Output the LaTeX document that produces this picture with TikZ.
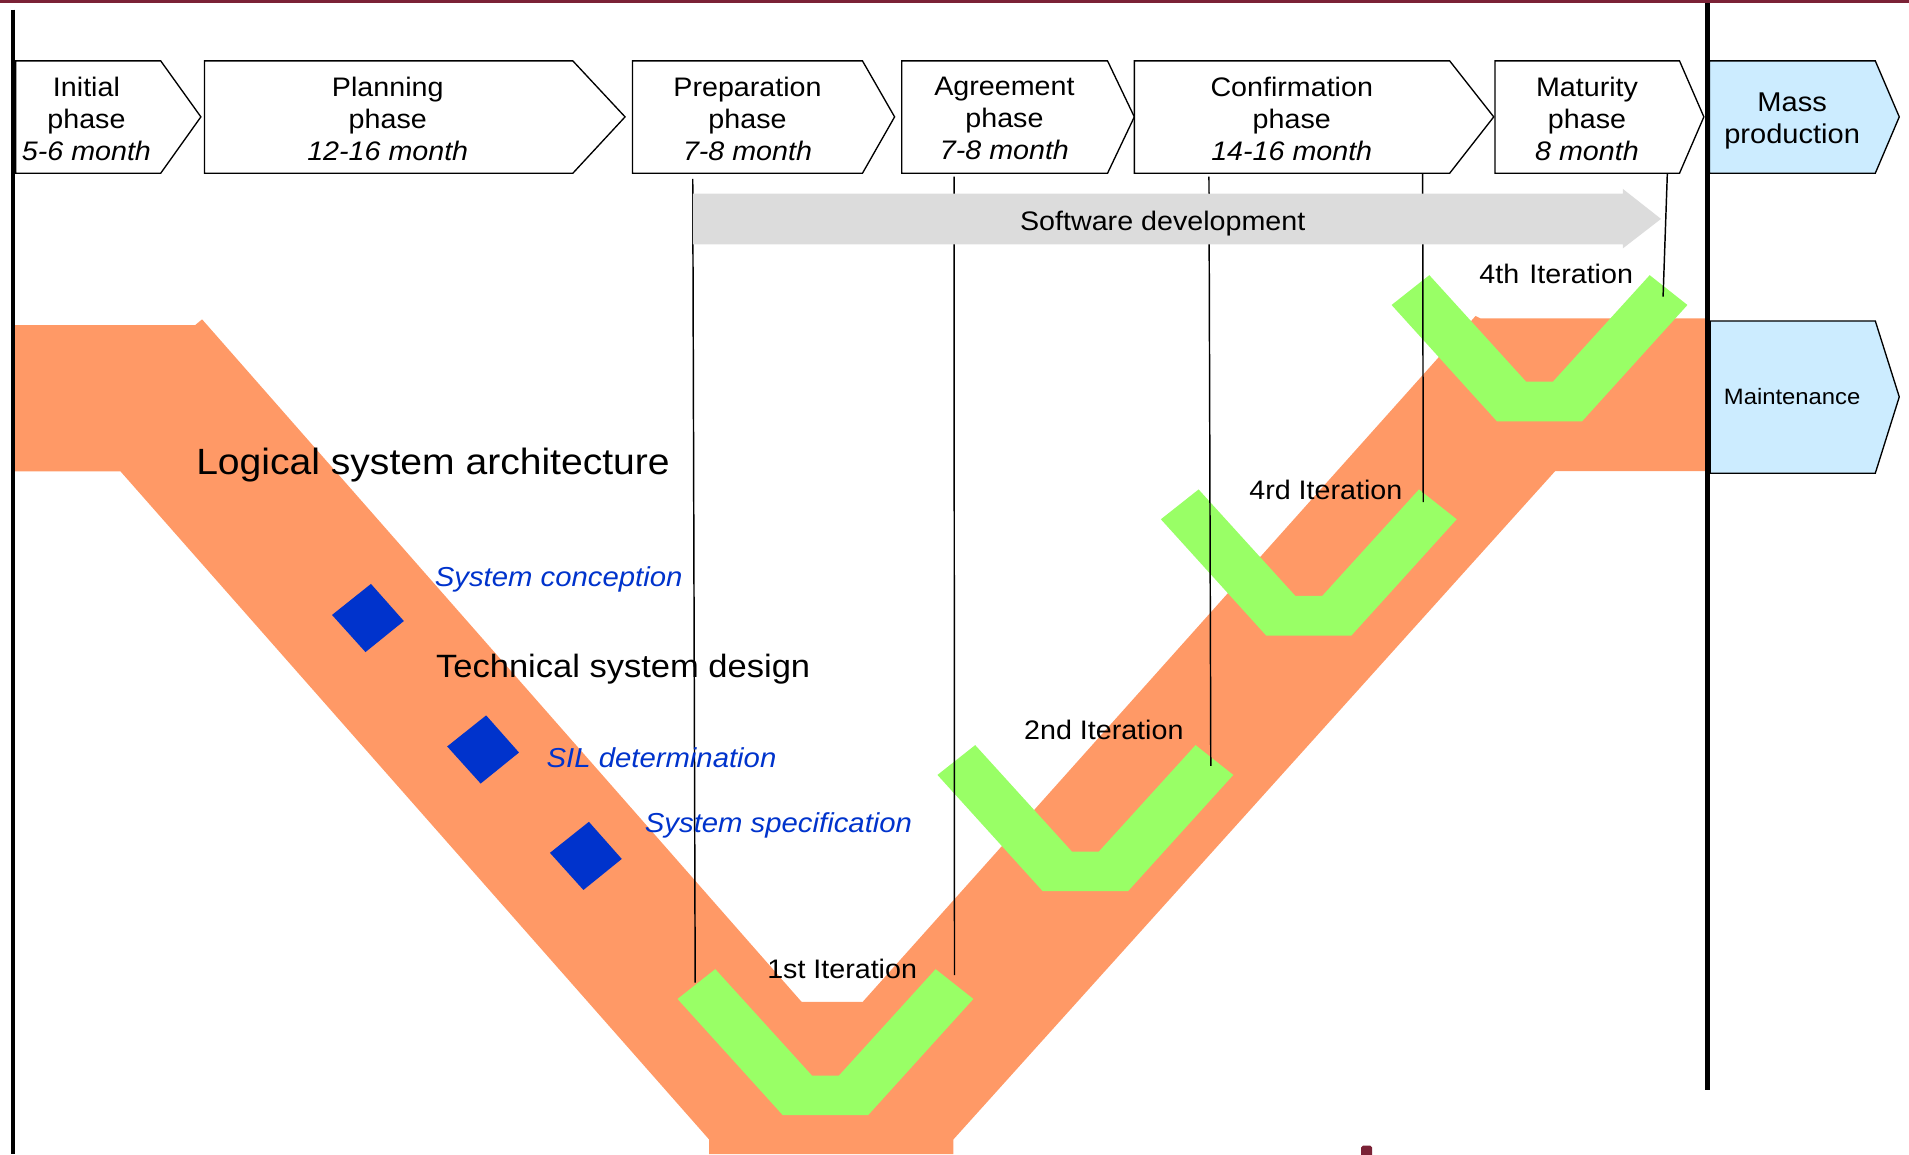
\documentclass[tikz,border=0pt]{standalone}
\usepackage{fontspec}
\setmainfont{Liberation Sans}[FakeStretch=1.07]
\begin{document}
\begin{tikzpicture}[x=1pt,y=-1pt,
  phasebox/.style={draw=black,line width=1.1pt,fill=white,line join=miter},
  phasetext/.style={anchor=north,align=center,inner sep=0pt,font=\fontsize{22}{26.3}\selectfont},
  iterlabel/.style={anchor=base west,inner sep=0pt,font=\fontsize{22}{26}\selectfont},
  bluelabel/.style={anchor=base west,inner sep=0pt,text=sysblue,font=\fontsize{22.5}{27}\selectfont\itshape},
  biglabel/.style={anchor=base west,inner sep=0pt},
  guide/.style={draw=black,line width=1.2pt},
  barline/.style={draw=black,line width=3.8pt}]
\definecolor{vorange}{RGB}{255,153,102}
\definecolor{itergreen}{RGB}{153,255,102}
\definecolor{sysblue}{RGB}{0,51,204}
\definecolor{sdgrey}{RGB}{220,220,220}
\definecolor{lightblue}{RGB}{204,236,255}
\definecolor{maroon}{RGB}{123,34,54}

\useasboundingbox (0,0) rectangle (1568,948);

% title rule and footer mark
\fill[maroon] (0,0) rectangle (1568,2.8);
\fill[maroon,rounded corners=1.5pt] (1118,941) rectangle (1127,950);

% the V band
\fill[vorange] (10,267) -- (160.3,267) -- (166,262.3) -- (658.5,823) -- (708.5,823)
  -- (1212,259.5) -- (1216,261.5) -- (1402,261.5) -- (1402,387) -- (1277.3,387)
  -- (783,936) -- (783,948) -- (582.5,948) -- (582.5,936) -- (99,387.2) -- (10,387.2) -- cycle;

% milestones on the left arm
\foreach \dx/\dy in {302.2/507.6, 396.8/615.6, 481.2/703}
  \fill[sysblue] (\dx+2.5,\dy-28) -- (\dx+29.5,\dy+2.5) -- (\dx-2,\dy+28) -- (\dx-29.5,\dy-2.5) -- cycle;

% iteration chevrons
\foreach \cx/\cy in {678/796, 891.5/612, 1075/402, 1264.5/226}
  \fill[itergreen] (\cx-90.5,\cy) -- (\cx-11,\cy+87.5) -- (\cx+11,\cy+87.5) -- (\cx+90.5,\cy)
    -- (\cx+121.5,\cy+24.5) -- (\cx+35,\cy+120) -- (\cx-35,\cy+120) -- (\cx-121.5,\cy+24.5) -- cycle;

% guide lines from the phases to the iterations
\coordinate (g1a) at (569,147);    \coordinate (g1b) at (571,807);
\coordinate (g2a) at (783.6,145);  \coordinate (g2b) at (784,801);
\coordinate (g3a) at (993,145);    \coordinate (g3b) at (994.5,629);
\coordinate (g4a) at (1168.5,138); \coordinate (g4b) at (1169,412.5);
\coordinate (g5a) at (1369.5,142.3); \coordinate (g5b) at (1366,243.6);
\draw[guide] (g1a) -- (g1b);
\draw[guide] (g2a) -- (g2b);
\draw[guide] (g3a) -- (g3b);
\draw[guide] (g4a) -- (g4b);
\draw[guide] (g5a) -- (g5b);

% software development arrow
\fill[sdgrey] (569,159) -- (1333,159) -- (1333,155.2) -- (1364.3,179.8) -- (1333,204) -- (1333,200.7) -- (569,200.7) -- cycle;
\node (sw) [anchor=base,inner sep=0pt,font=\fontsize{22}{26}\selectfont] at (955,189) {Software development};

% phase boxes
\draw[phasebox] (13,50) -- (132,50) -- (165,96) -- (132,142.3) -- (13,142.3) -- cycle;
\draw[phasebox] (168,50) -- (470.5,50) -- (513.4,96) -- (470.5,142.3) -- (168,142.3) -- cycle;
\draw[phasebox] (519.5,50) -- (708.4,50) -- (734.8,96) -- (708.4,142.3) -- (519.5,142.3) -- cycle;
\draw[phasebox] (740.7,50) -- (909.7,50) -- (931.7,96) -- (909.7,142.3) -- (740.7,142.3) -- cycle;
\draw[phasebox] (931.7,50) -- (1190.7,50) -- (1226.9,96) -- (1190.7,142.3) -- (931.7,142.3) -- cycle;
\draw[phasebox] (1228,50) -- (1379.5,50) -- (1399.5,96) -- (1379.5,142.3) -- (1228,142.3) -- cycle;
\draw[phasebox,fill=lightblue] (1404,50) -- (1540.3,50) -- (1560,96) -- (1540.3,142.3) -- (1404,142.3) -- cycle;
\draw[phasebox,fill=lightblue] (1404.7,263.6) -- (1540.3,263.6) -- (1560,326) -- (1540.3,388.7) -- (1404.7,388.7) -- cycle;

\node (p1) [phasetext] at (71,63.4) {Initial\\phase\\\itshape 5-6 month};
\node (p2) [phasetext] at (318.5,63.4) {Planning\\phase\\\itshape 12-16 month};
\node (p3) [phasetext] at (614,63.4) {Preparation\\phase\\\itshape 7-8 month};
\node (p4) [phasetext] at (825,63.4) {Agreement\\phase\\\itshape 7-8 month};
\node (p5) [phasetext] at (1061,63.4) {Confirmation\\phase\\\itshape 14-16 month};
\node (p6) [phasetext] at (1303.5,63.4) {Maturity\\phase\\\itshape 8 month};
\node (p7) [phasetext,font=\fontsize{22.3}{26.6}\selectfont] at (1472,75.9) {Mass\\production};
\node (mt) [anchor=base,inner sep=0pt,font=\fontsize{18.3}{22}\selectfont] at (1472,332.5) {Maintenance};

% phase boundaries
\draw[barline,line width=3.5pt] (10.8,8) -- (10.8,948);
\draw[barline] (1402.3,2.7) -- (1402.3,895);

% labels on the V
\node (lsa) [biglabel,font=\fontsize{30}{34}\selectfont] at (161,389.7) {Logical system architecture};
\node (tsd) [biglabel,font=\fontsize{26.5}{31}\selectfont] at (358,556.4) {Technical system design};
\node (sc) [bluelabel] at (357,481.8) {System conception};
\node (sil) [bluelabel] at (448.8,630.3) {SIL determination};
\node (ss) [bluelabel] at (529.5,684) {System specification};

\node (it1) [iterlabel] at (630,804) {1st Iteration};
\node (it2) [iterlabel] at (841,607.3) {2nd Iteration};
\node (it3) [iterlabel] at (1026,410.5) {4rd Iteration};
\node (it4) [iterlabel] at (1215,232.5) {4th\hspace{0.08em} Iteration};
\end{tikzpicture}
\end{document}
